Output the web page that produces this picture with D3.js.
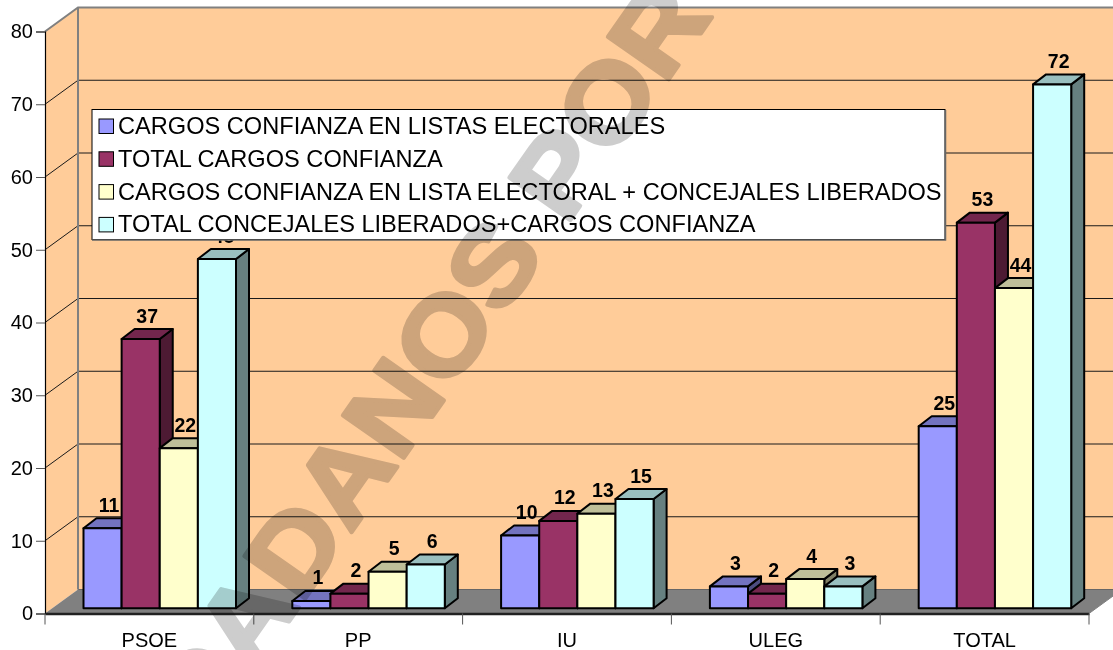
<!DOCTYPE html>
<html>
<head>
<meta charset="utf-8">
<script src="https://cdn.jsdelivr.net/npm/d3@7"></script>
<style>
  body { margin: 0; background: #fff; }
  text { font-family: "Liberation Sans", Arial, sans-serif; }
</style>
</head>
<body>
<svg id="chart"></svg>
<script>
// values
const categories = ['PSOE', 'PP', 'IU', 'ULEG', 'TOTAL'];
const listas = [11, 1, 10, 3, 25];
const totalCargos = [37, 2, 12, 2, 53];
const listaMasLiberados = [22, 5, 13, 4, 44];
const totalLiberados = [48, 6, 15, 3, 72];
const seriesNames = [
  'CARGOS CONFIANZA EN LISTAS ELECTORALES',
  'TOTAL CARGOS CONFIANZA',
  'CARGOS CONFIANZA EN LISTA ELECTORAL + CONCEJALES LIBERADOS',
  'TOTAL CONCEJALES LIBERADOS+CARGOS CONFIANZA'
];
const yTicks = [0, 10, 20, 30, 40, 50, 60, 70, 80];

const series = [listas, totalCargos, listaMasLiberados, totalLiberados];
const front = ['#9999ff', '#993366', '#ffffcc', '#ccffff'];
const topFace = ['#7373bf', '#73264d', '#bfbf99', '#99bfbf'];
const sideFace = ['#4d4d80', '#4d1a33', '#808066', '#668080'];

const width = 1113, height = 650;
const svg = d3.select('#chart').attr('width', width).attr('height', height)
  .style('display', 'block');

const x = d3.scaleBand().domain(categories).range([45, 1089]);
const inner = d3.scaleBand().domain(d3.range(4)).range([38.5, 191]);
const y = d3.scaleLinear().domain([0, 80]).range([613.5, 31.5]);

// wall depth and bar depth
const wallDx = 33, wallDy = -24;
const barDx = 13, barDy = -10, barLift = 5.3;

const pts = a => a.map(p => p.join(',')).join(' ');

// walls and floor
svg.append('polygon')
  .attr('points', pts([[x.range()[0], y(0)], [x.range()[0] + wallDx, y(0) + wallDy], [x.range()[0] + wallDx, y(80) + wallDy], [x.range()[0], y(80)]]))
  .attr('fill', '#ffcc99');
svg.append('rect')
  .attr('x', x.range()[0] + wallDx).attr('y', y(80) + wallDy)
  .attr('width', width).attr('height', y(0) - y(80))
  .attr('fill', '#ffcc99');

// gridlines
yTicks.filter(d => d > 0 && d < 80).forEach(d => {
  svg.append('polyline')
    .attr('points', pts([[x.range()[0], y(d)], [x.range()[0] + wallDx, y(d) + wallDy], [width, y(d) + wallDy]]))
    .attr('fill', 'none').attr('stroke', '#1a1a1a').attr('stroke-width', 1);
});

svg.append('polygon')
  .attr('points', pts([[x.range()[0], y(0)], [x.range()[0] + wallDx, y(0) + wallDy], [x.range()[1] + wallDx, y(0) + wallDy], [x.range()[1], y(0)]]))
  .attr('fill', '#808080');
svg.append('line')
  .attr('x1', x.range()[0] + wallDx).attr('x2', width)
  .attr('y1', y(0) + wallDy).attr('y2', y(0) + wallDy)
  .attr('stroke', '#666').attr('stroke-width', 1);

// wall edges
svg.append('polyline')
  .attr('points', pts([[x.range()[0], y(80)], [x.range()[0] + wallDx, y(80) + wallDy], [width, y(80) + wallDy]]))
  .attr('fill', 'none').attr('stroke', '#808080').attr('stroke-width', 2);
svg.append('line')
  .attr('x1', x.range()[0] + wallDx).attr('x2', x.range()[0] + wallDx)
  .attr('y1', y(80) + wallDy).attr('y2', y(0) + wallDy)
  .attr('stroke', '#808080').attr('stroke-width', 2);

// bars, later ones paint over earlier ones
const barsG = svg.append('g').attr('stroke', '#000').attr('stroke-width', 2).attr('stroke-linejoin', 'round');
categories.forEach((cat, c) => {
  series.forEach((vals, s) => {
    const v = vals[c];
    const x0 = x(cat) + inner(s), x1 = x0 + inner.bandwidth();
    const yTop = y(v) - barLift, yBase = y(0) - barLift;
    const g = barsG.append('g');
    g.append('polygon')
      .attr('points', pts([[x1, yTop], [x1 + barDx, yTop + barDy], [x1 + barDx, yBase + barDy], [x1, yBase]]))
      .attr('fill', sideFace[s]);
    g.append('polygon')
      .attr('points', pts([[x0, yTop], [x0 + barDx, yTop + barDy], [x1 + barDx, yTop + barDy], [x1, yTop]]))
      .attr('fill', topFace[s]);
    g.append('rect')
      .attr('x', x0).attr('y', yTop)
      .attr('width', inner.bandwidth()).attr('height', yBase - yTop)
      .attr('fill', front[s]);
    g.append('text')
      .attr('x', (x0 + x1 + barDx) / 2).attr('y', yTop + barDy - 6.5)
      .attr('text-anchor', 'middle').attr('stroke', 'none')
      .attr('font-size', 19.5).attr('font-weight', 'bold').attr('fill', '#000')
      .text(v);
  });
});

// axes
const yAxis = svg.append('g').attr('transform', `translate(${x.range()[0]},0)`)
  .call(d3.axisLeft(y).tickValues(yTicks).tickSize(9).tickPadding(3));
yAxis.select('.domain').attr('stroke', '#000').attr('stroke-width', 1.2);
yAxis.selectAll('.tick line').attr('stroke', '#555');
yAxis.selectAll('text').attr('font-size', 20).attr('font-family', '"Liberation Sans", Arial, sans-serif').attr('fill', '#000');

const xAxis = svg.append('g').attr('transform', `translate(0,${y(0)})`)
  .call(d3.axisBottom(x).tickSize(0).tickPadding(19));
xAxis.select('.domain').attr('stroke', '#222').attr('stroke-width', 2.5);
xAxis.selectAll('text').attr('font-size', 20).attr('font-family', '"Liberation Sans", Arial, sans-serif').attr('fill', '#000');
d3.range(categories.length + 1).forEach(i => {
  xAxis.append('line')
    .attr('x1', x.range()[0] + i * x.step()).attr('x2', x.range()[0] + i * x.step())
    .attr('y1', 0).attr('y2', 11)
    .attr('stroke', '#555');
});
// floor's right edge runs off towards the back corner
svg.append('line')
  .attr('x1', x.range()[1]).attr('y1', y(0))
  .attr('x2', x.range()[1] + wallDx).attr('y2', y(0) + wallDy)
  .attr('stroke', '#808080');

// legend
const legend = svg.append('g');
legend.append('rect')
  .attr('x', 92).attr('y', 109.5).attr('width', 853).attr('height', 130)
  .attr('fill', '#fff').attr('stroke', '#000');
legend.append('path').attr('d', 'M92,240H945.5V110').attr('fill', 'none').attr('stroke', '#666').attr('stroke-width', 1.5);
seriesNames.forEach((name, i) => {
  const yy = 119 + i * 32.8;
  legend.append('rect')
    .attr('x', 99).attr('y', yy).attr('width', 14.5).attr('height', 14.5)
    .attr('fill', front[i]).attr('stroke', '#000');
  legend.append('text')
    .attr('x', 118).attr('y', yy + 15)
    .attr('font-size', 23.6).attr('fill', '#000')
    .text(name);
});

// watermark sits over everything and darkens what is below it
svg.append('text')
  .attr('transform', 'translate(85,913) rotate(-55) scale(1.1,1)')
  .attr('font-size', 108).attr('font-weight', 'bold')
  .attr('fill', '#cdcdcd').attr('stroke', '#cdcdcd').attr('stroke-width', 4)
  .attr('stroke-linejoin', 'round')
  .style('mix-blend-mode', 'multiply')
  .text('CIUDADANOS POR');
</script>
</body>
</html>
